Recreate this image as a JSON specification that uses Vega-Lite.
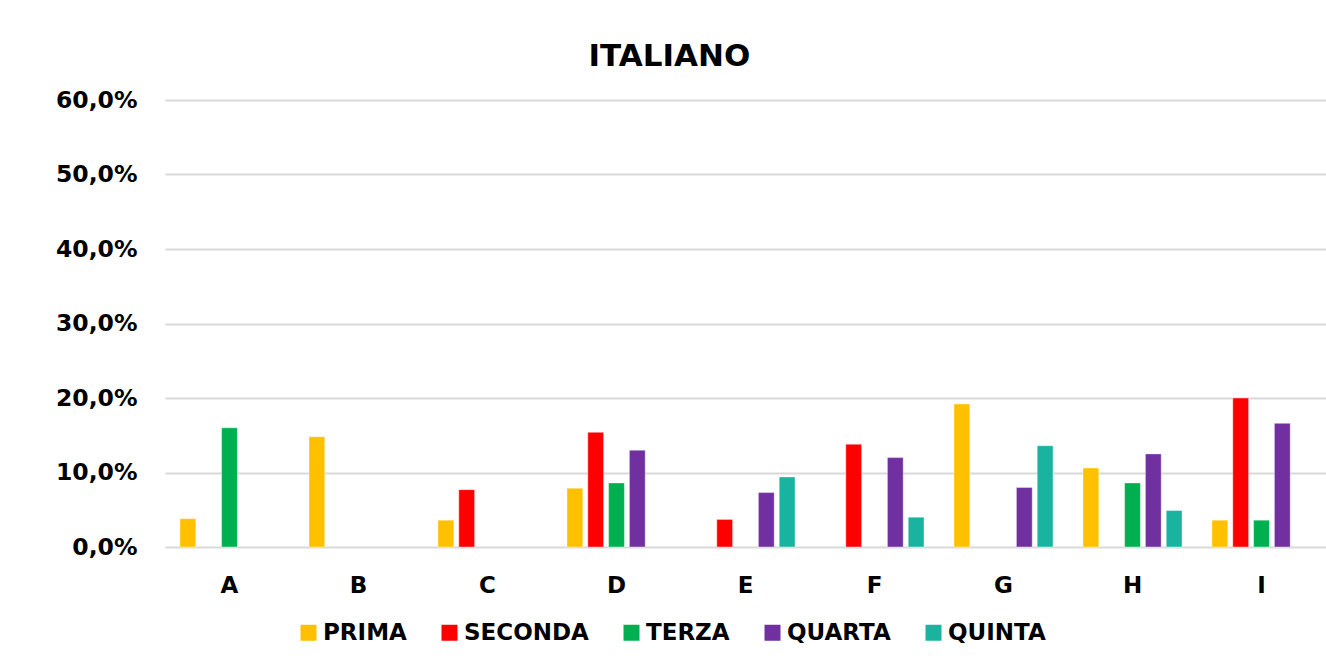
{
  "$schema": "https://vega.github.io/schema/vega-lite/v6.json",
  "autosize": {"type": "none"},
  "width": 1161,
  "height": 447,
  "padding": {"left": 165, "top": 100, "right": 0, "bottom": 122},
  "background": "white",
  "title": {
    "text": "ITALIANO",
    "font": "DejaVu Sans",
    "fontSize": 31,
    "fontWeight": "bold",
    "color": "#000000",
    "anchor": "start",
    "dx": 533,
    "offset": 15
  },
  "data": {
    "values": [
      {"cat": "A", "serie": "PRIMA", "val": 3.8},
      {"cat": "A", "serie": "TERZA", "val": 16.0},
      {"cat": "B", "serie": "PRIMA", "val": 14.8},
      {"cat": "C", "serie": "PRIMA", "val": 3.6},
      {"cat": "C", "serie": "SECONDA", "val": 7.7},
      {"cat": "D", "serie": "PRIMA", "val": 7.9},
      {"cat": "D", "serie": "SECONDA", "val": 15.4},
      {"cat": "D", "serie": "TERZA", "val": 8.6},
      {"cat": "D", "serie": "QUARTA", "val": 13.0},
      {"cat": "E", "serie": "SECONDA", "val": 3.7},
      {"cat": "E", "serie": "QUARTA", "val": 7.3},
      {"cat": "E", "serie": "QUINTA", "val": 9.4},
      {"cat": "F", "serie": "SECONDA", "val": 13.8},
      {"cat": "F", "serie": "QUARTA", "val": 12.0},
      {"cat": "F", "serie": "QUINTA", "val": 4.0},
      {"cat": "G", "serie": "PRIMA", "val": 19.2},
      {"cat": "G", "serie": "QUARTA", "val": 8.0},
      {"cat": "G", "serie": "QUINTA", "val": 13.6},
      {"cat": "H", "serie": "PRIMA", "val": 10.6},
      {"cat": "H", "serie": "TERZA", "val": 8.6},
      {"cat": "H", "serie": "QUARTA", "val": 12.5},
      {"cat": "H", "serie": "QUINTA", "val": 4.9},
      {"cat": "I", "serie": "PRIMA", "val": 3.6},
      {"cat": "I", "serie": "SECONDA", "val": 20.0},
      {"cat": "I", "serie": "TERZA", "val": 3.6},
      {"cat": "I", "serie": "QUARTA", "val": 16.6}
    ]
  },
  "mark": {"type": "bar", "stroke": "white", "strokeOpacity": 0.4, "strokeWidth": 1},
  "encoding": {
    "x": {
      "field": "cat",
      "type": "nominal",
      "scale": {"domain": ["A", "B", "C", "D", "E", "F", "G", "H", "I"], "paddingInner": 0.2, "paddingOuter": 0.1},
      "axis": {
        "title": null,
        "labelAngle": 0,
        "ticks": false,
        "domain": false,
        "labelFont": "DejaVu Sans",
        "labelFontSize": 23,
        "labelFontWeight": "bold",
        "labelColor": "#000000",
        "labelPadding": 27
      }
    },
    "xOffset": {
      "field": "serie",
      "scale": {"domain": ["PRIMA", "SECONDA", "TERZA", "QUARTA", "QUINTA"], "paddingInner": 0.24, "paddingOuter": 0.1}
    },
    "y": {
      "field": "val",
      "type": "quantitative",
      "scale": {"domain": [0, 60], "nice": false},
      "axis": {
        "title": null,
        "values": [0, 10, 20, 30, 40, 50, 60],
        "labelExpr": "replace(format(datum.value, '.1f'), '.', ',') + '%'",
        "ticks": false,
        "domain": false,
        "gridColor": "#d9d9d9",
        "gridWidth": 2,
        "labelFont": "DejaVu Sans",
        "labelFontSize": 23.5,
        "labelFontWeight": "bold",
        "labelColor": "#000000",
        "labelPadding": 28
      }
    },
    "color": {
      "field": "serie",
      "type": "nominal",
      "scale": {
        "domain": ["PRIMA", "SECONDA", "TERZA", "QUARTA", "QUINTA"],
        "range": ["#FFC000", "#FF0000", "#00B050", "#7030A0", "#1AB3A0"]
      },
      "legend": {
        "title": null,
        "orient": "none",
        "direction": "horizontal",
        "legendX": 132,
        "legendY": 521,
        "symbolType": "square",
        "symbolSize": 256,
        "symbolStrokeWidth": 0,
        "labelFont": "DejaVu Sans",
        "labelFontSize": 23,
        "labelFontWeight": "bold",
        "labelColor": "#000000",
        "labelOffset": 3,
        "columnPadding": 31
      }
    }
  },
  "config": {"view": {"stroke": null}}
}
